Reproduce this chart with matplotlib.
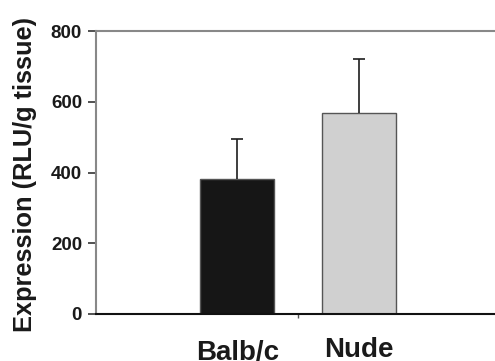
import numpy as np
import matplotlib
matplotlib.use('Agg')
import matplotlib.pyplot as plt
import matplotlib.ticker as ticker

groups = ['Balb/c', 'Nude']
expression = [381, 567]
err_upper = [113, 153]
bar_colors = ['#161616', '#d0d0d0']
yticks = [0, 200, 400, 600, 800]

plt.rcParams['font.family'] = ['Liberation Sans', 'DejaVu Sans']
plt.rcParams['font.weight'] = 'bold'

fig = plt.figure(figsize=(4.95, 3.61), dpi=100)
ax = fig.add_axes([96/495, 47/361, 404/495, 283/361])

x = np.arange(1, len(groups) + 1)
tops = np.add(expression, err_upper)
ax.bar(x, expression, width=0.61, color=bar_colors, edgecolor='#555555', linewidth=1.0, zorder=2)
# upward-only error bars
ax.vlines(x, expression, tops, color='#1e1e1e', linewidth=1.2, zorder=3)
ax.plot(x, tops, ls='none', marker='_', markersize=9, markeredgewidth=1.2, color='#1e1e1e', zorder=3)

ax.set_xlim(1.5 - 1.665, 1.5 + 1.665)
ax.set_ylim(0, 800)
ax.set_yticks(yticks)
ax.set_xticks(x)
ax.set_xticklabels(groups, fontsize=20, fontweight='bold', color='#1a1a1a')
ax.xaxis.set_minor_locator(ticker.FixedLocator([1.5]))
ax.tick_params(axis='x', which='major', length=0, pad=16.5)
ax.tick_params(axis='x', which='minor', length=3, width=1, color='#555555', direction='out')
ax.tick_params(axis='y', which='major', length=6, width=1.2, color='#333333',
               labelsize=13.5, labelcolor='#1a1a1a', pad=4, direction='out')
for lab in ax.get_yticklabels():
    lab.set_fontweight('bold')
ax.get_xticklabels()[0].set_y(-0.011)

ax.set_ylabel('Expression (RLU/g tissue)', fontsize=18.3, fontweight='bold', color='#1a1a1a')
ax.yaxis.set_label_coords(-0.145, 0.492)

ax.spines['right'].set_visible(False)
ax.spines['top'].set_color('#888888')
ax.spines['top'].set_linewidth(1.5)
ax.spines['left'].set_color('#888888')
ax.spines['left'].set_linewidth(1.5)
ax.spines['bottom'].set_color('#111111')
ax.spines['bottom'].set_linewidth(1.5)

fig.savefig('out.png', dpi=100)
